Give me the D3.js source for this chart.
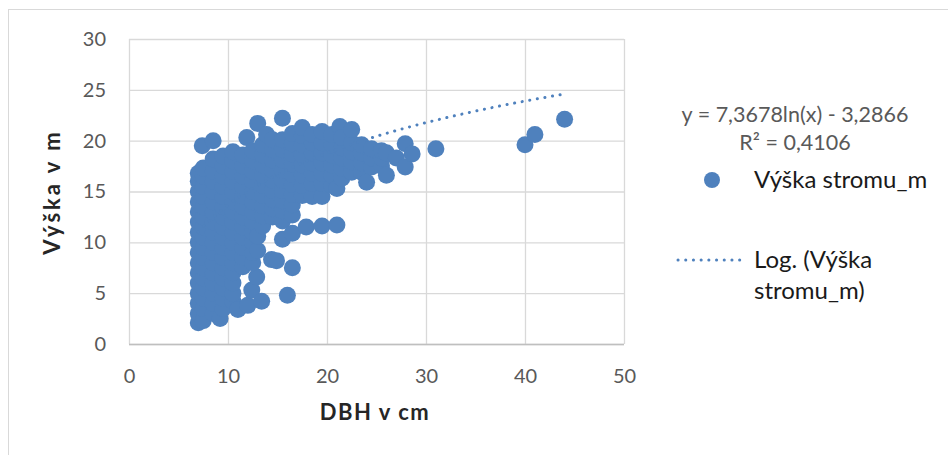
<!DOCTYPE html>
<meta charset="utf-8">
<style>
    body { margin: 0; background: #fff; }
    svg { display: block; font-family: Lato, "Open Sans", sans-serif; }
</style>
<div id="chart"></div>
<script src="https://d3js.org/d3.v7.min.js"></script>
<script>
    // one entry per tree: DBH in cm and height in m
    var dbhCm = [
        7.0, 7.0, 7.0, 7.0, 7.0, 7.0, 7.0, 7.0, 7.0, 7.0, 7.0, 7.0, 7.0, 7.0, 7.0, 7.0,
        7.5, 7.5, 7.5, 7.5, 7.5, 7.5, 7.5, 7.5, 7.5, 7.5, 7.5, 7.5, 7.5, 7.5, 7.5, 7.5, 7.4,
        8.5, 8.5, 8.5, 8.5, 8.5, 8.5, 8.5, 8.5, 8.5, 8.5, 8.5, 8.5, 8.5, 8.5, 8.5, 8.5, 8.5, 9.2,
        9.5, 9.5, 9.5, 9.5, 9.5, 9.5, 9.5, 9.5, 9.5, 9.5, 9.5, 9.5, 9.5, 9.5, 9.5, 9.5,
        10.5, 10.5, 10.5, 10.5, 10.5, 10.5, 10.5, 10.5, 10.5, 10.5, 10.5, 10.5, 10.5, 10.5, 10.5, 10.5, 11.0,
        11.5, 11.5, 11.5, 11.5, 11.5, 11.5, 11.5, 11.5, 11.5, 11.5, 11.5, 11.5, 12.0, 11.9, 12.4, 12.9,
        12.5, 12.5, 12.5, 12.5, 12.5, 12.5, 12.5, 12.5, 12.5, 12.5, 12.5, 12.5, 13.0, 13.0, 13.0, 13.4,
        13.5, 13.5, 13.5, 13.5, 13.5, 13.5, 13.5, 13.5, 13.5, 13.9, 14.4, 14.9,
        14.5, 14.5, 14.5, 14.5, 14.5, 14.5, 14.5, 14.5, 14.5,
        15.5, 15.5, 15.5, 15.5, 15.5, 15.5, 15.5, 15.5, 15.5, 15.5, 15.5, 16.0,
        16.5, 16.5, 16.5, 16.5, 16.5, 16.5, 16.5, 16.5, 16.5, 16.5, 16.5,
        17.5, 17.5, 17.5, 17.5, 17.5, 17.5, 17.5, 17.5, 17.9,
        18.5, 18.5, 18.5, 18.5, 18.5, 18.5, 18.5,
        19.5, 19.5, 19.5, 19.5, 19.5, 19.5, 19.5, 19.5,
        20.5, 20.5, 20.5, 20.5, 20.5, 20.5, 21.0, 21.0, 21.3,
        21.5, 21.5, 21.5, 21.5, 21.5,
        22.5, 22.5, 22.5, 22.5, 22.5,
        23.5, 23.5, 23.5, 23.5, 24.0,
        24.5, 24.5, 24.5,
        25.5, 25.5, 25.5,
        26.0, 26.0, 27.0, 27.9, 27.9, 28.6,
        31.0, 40.0, 41.0, 44.0
    ];
    var heightM = [
        2.1, 3.0, 4.0, 5.0, 6.0, 7.0, 8.0, 9.0, 10.0, 11.0, 12.0, 13.0, 14.0, 15.0, 16.0, 16.8,
        2.3, 3.5, 4.5, 5.5, 6.5, 7.5, 8.5, 9.5, 10.5, 11.5, 12.5, 13.5, 14.5, 15.5, 16.5, 17.3, 19.5,
        3.0, 4.0, 5.0, 6.0, 7.0, 8.0, 9.0, 10.0, 11.0, 12.0, 13.0, 14.0, 15.0, 16.0, 17.0, 18.2, 20.0, 2.5,
        3.5, 4.5, 5.5, 6.5, 7.5, 8.5, 9.5, 10.5, 11.5, 12.5, 13.5, 14.5, 15.5, 16.5, 17.5, 18.5,
        4.2, 5.0, 6.0, 7.0, 8.0, 9.0, 10.0, 11.0, 12.0, 13.0, 14.0, 15.0, 16.0, 17.0, 18.0, 18.9, 3.4,
        7.6, 8.5, 9.5, 10.5, 11.5, 12.5, 13.5, 14.5, 15.5, 16.5, 17.5, 18.6, 3.8, 20.3, 5.3, 6.6,
        8.0, 9.0, 10.0, 11.0, 12.0, 13.0, 14.0, 15.0, 16.0, 17.0, 18.0, 19.0, 9.2, 10.6, 21.7, 4.2,
        11.6, 12.6, 13.6, 14.6, 15.6, 16.6, 17.6, 18.6, 19.6, 20.6, 8.3, 8.2,
        12.5, 13.3, 14.2, 15.1, 16.1, 17.1, 18.1, 19.1, 20.1,
        10.3, 12.1, 13.1, 14.1, 15.1, 16.1, 17.1, 18.1, 19.1, 20.1, 22.2, 4.8,
        7.5, 10.9, 12.7, 13.7, 14.7, 15.7, 16.7, 17.7, 18.7, 19.7, 20.7,
        14.6, 15.6, 16.6, 17.6, 18.6, 19.6, 20.5, 21.3, 11.5,
        14.5, 15.8, 16.8, 17.8, 18.8, 19.8, 20.6,
        11.6, 14.5, 15.8, 16.8, 17.8, 18.8, 19.8, 20.9,
        15.6, 16.6, 17.6, 18.6, 19.6, 20.6, 11.7, 15.3, 21.4,
        16.3, 17.3, 18.3, 19.3, 20.3,
        16.9, 17.9, 18.9, 19.8, 21.1,
        16.9, 17.8, 18.8, 19.6, 15.9,
        17.4, 18.3, 19.2,
        17.5, 18.3, 19.0,
        16.6, 18.8, 18.3, 17.4, 19.7, 18.7,
        19.2, 19.6, 20.6, 22.1
    ];
    var xTicks = [0, 10, 20, 30, 40, 50];
    var yTicks = [0, 5, 10, 15, 20, 25, 30];

    // logarithmic trendline shown in the chart: y = a*ln(x) + b
    var trendA = 7.3678, trendB = -3.2866;
    var equationLabel = "y = 7,3678ln(x) - 3,2866";
    var r2Label = "R² = 0,4106";
    var seriesLabel = "Výška stromu_m";
    var trendLabel = ["Log. (Výška", "stromu_m)"];

    var W = 948, H = 455;
    var margin = {top: 39, left: 129},
        width = 495,
        height = 305;
    var blue = "#4f81bd";

    var svg = d3.select("#chart").append("svg")
        .attr("width", W)
        .attr("height", H);

    // chart area border
    svg.append("rect")
        .attr("x", 8.5).attr("y", 9.5)
        .attr("width", W).attr("height", H)
        .attr("fill", "none")
        .attr("stroke", "#d9d9d9");

    var g = svg.append("g")
        .attr("transform", "translate(" + margin.left + "," + margin.top + ")");

    var x = d3.scaleLinear().domain([0, 50]).range([0, width]);
    var y = d3.scaleLinear().domain([0, 30]).range([height, 0]);

    // Gridlines + tick labels
    g.append("g")
        .attr("transform", "translate(0," + height + ")")
        .call(d3.axisBottom(x).tickValues(xTicks).tickSize(-height).tickPadding(25));
    g.append("g")
        .call(d3.axisLeft(y).tickValues(yTicks).tickSize(-width).tickPadding(23));
    g.selectAll(".domain").remove();
    g.selectAll(".tick line").attr("stroke", "#d9d9d9").attr("stroke-width", 1.3);
    g.selectAll(".tick text")
        .attr("fill", "#595959")
        .style("font-size", "20px")
        .style("font-family", "Lato, sans-serif");
    // bottom axis line
    g.append("line")
        .attr("x1", 0).attr("x2", width)
        .attr("y1", height + 0.5).attr("y2", height + 0.5)
        .attr("stroke", "#bfbfbf").attr("stroke-width", 1.3);

    // points
    var pts = dbhCm.map(function(d, i) { return {dbh: d, h: heightM[i]}; });
    g.selectAll("circle.pt")
        .data(pts)
        .enter().append("circle")
        .attr("class", "pt")
        .attr("cx", function(d) { return x(d.dbh); })
        .attr("cy", function(d) { return y(d.h); })
        .attr("r", 8.5)
        .attr("fill", blue);

    // trendline over the data range
    var xMin = d3.min(dbhCm), xMax = d3.max(dbhCm);
    var trendXs = d3.range(xMin, xMax, 0.25).concat([xMax]);
    g.append("path")
        .datum(trendXs)
        .attr("fill", "none")
        .attr("stroke", blue)
        .attr("stroke-width", 3)
        .attr("stroke-linecap", "round")
        .attr("stroke-dasharray", "0.1 7.6")
        .attr("d", d3.line()
            .x(function(d) { return x(d); })
            .y(function(d) { return y(trendA * Math.log(d) + trendB); }));

    // axis titles
    svg.append("text")
        .attr("x", 375).attr("y", 420)
        .attr("text-anchor", "middle")
        .attr("fill", "#262626")
        .style("font-size", "22px").style("font-weight", "bold")
        .style("letter-spacing", "1.5px")
        .text("DBH v cm");
    svg.append("text")
        .attr("transform", "translate(60,192) rotate(-90)")
        .attr("text-anchor", "middle")
        .attr("fill", "#262626")
        .style("font-size", "22px").style("font-weight", "bold")
        .style("letter-spacing", "3px")
        .text("Výška v m");

    // trendline label
    svg.append("text")
        .attr("x", 795).attr("y", 122)
        .attr("text-anchor", "middle")
        .attr("fill", "#595959")
        .style("font-size", "21.5px")
        .text(equationLabel);
    svg.append("text")
        .attr("x", 795).attr("y", 150)
        .attr("text-anchor", "middle")
        .attr("fill", "#595959")
        .style("font-size", "21.5px")
        .text(r2Label);

    // legend
    svg.append("circle")
        .attr("cx", 712).attr("cy", 180).attr("r", 8)
        .attr("fill", blue);
    svg.append("text")
        .attr("x", 754).attr("y", 188)
        .attr("fill", "#1a1a1a")
        .style("font-size", "24px")
        .text(seriesLabel);
    svg.append("line")
        .attr("x1", 678).attr("x2", 742)
        .attr("y1", 260).attr("y2", 260)
        .attr("stroke", blue)
        .attr("stroke-width", 3)
        .attr("stroke-linecap", "round")
        .attr("stroke-dasharray", "0.1 7.6");
    svg.selectAll("text.trendname")
        .data(trendLabel)
        .enter().append("text")
        .attr("class", "trendname")
        .attr("x", 754)
        .attr("y", function(d, i) { return 268 + i * 31; })
        .attr("fill", "#1a1a1a")
        .style("font-size", "24px")
        .text(function(d) { return d; });
</script>
